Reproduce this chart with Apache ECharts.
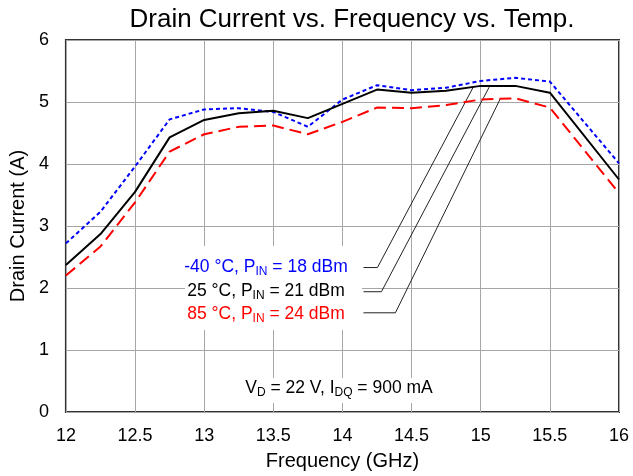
<!DOCTYPE html>
<html>
<head>
<meta charset="utf-8">
<style>
  html, body { margin: 0; padding: 0; background: #fff; }
  #cht { width: 633px; height: 476px; }
</style>
<script src="https://cdn.jsdelivr.net/npm/echarts@6/dist/echarts.min.js"></script>
</head>
<body>
<div id="cht"></div>
<script>
const freq = [12, 12.25, 12.5, 12.75, 13, 13.25, 13.5, 13.75, 14, 14.25, 14.5, 14.75, 15, 15.25, 15.5, 16];
const curM40 = [2.72, 3.23, 3.96, 4.72, 4.88, 4.90, 4.84, 4.60, 5.04, 5.27, 5.19, 5.23, 5.34, 5.39, 5.33, 4.01];
const cur25 = [2.37, 2.87, 3.55, 4.43, 4.71, 4.82, 4.86, 4.74, 4.97, 5.20, 5.15, 5.18, 5.26, 5.26, 5.15, 3.75];
const cur85 = [2.20, 2.67, 3.38, 4.20, 4.48, 4.60, 4.62, 4.48, 4.68, 4.91, 4.90, 4.95, 5.04, 5.06, 4.91, 3.53];

// leader lines from the labels up to the curves (GHz, A)
const leadM40 = [[14.152, 2.33], [14.253, 2.33], [14.946, 5.24]];
const lead25 = [[14.152, 1.94], [14.282, 1.94], [15.061, 5.24]];
const lead85 = [[14.152, 1.60], [14.383, 1.60], [15.141, 5.05]];

const FONT = '"Liberation Sans", Arial, sans-serif';

const cht = echarts.init(document.getElementById('cht'));

const pair = (xs, ys) => xs.map((x, i) => [x, ys[i]]);

const leader = (d) => ({
  type: 'line',
  data: d,
  symbol: 'none',
  silent: true,
  z: 1,
  lineStyle: { color: '#222', width: 1 },
});

const label = (txt, x, y, color) => ({
  type: 'text',
  x: x,
  y: y,
  z: 10,
  style: {
    text: txt,
    fill: color,
    font: '17.5px ' + FONT,
    textAlign: 'center',
    textVerticalAlign: 'middle',
    align: 'center',
    verticalAlign: 'middle',
    rich: {
      s: { fontSize: 12, fontFamily: FONT, fill: color, padding: [9, 0, 0, 0] },
    },
  },
});

// white boxes that mask the grid behind the annotations
const mask = (x, y, w, h) => ({
  type: 'rect',
  z: 5,
  shape: { x: x, y: y, width: w, height: h },
  style: { fill: '#fff' },
});

const option = {
  animation: false,
  title: {
    text: 'Drain Current vs. Frequency vs. Temp.',
    left: 347,
    textAlign: 'center',
    top: 2,
    textStyle: { fontFamily: FONT, fontSize: 26, fontWeight: 'normal', color: '#000' },
  },
  grid: {
    left: 65, right: 14, top: 40, bottom: 64,
    show: true, borderColor: '#333', borderWidth: 2,
  },
  xAxis: {
    type: 'value',
    min: 12, max: 16, interval: 0.5,
    name: 'Frequency (GHz)',
    nameLocation: 'middle',
    nameGap: 39,
    nameTextStyle: { fontFamily: FONT, fontSize: 20, color: '#000' },
    axisLine: { show: false },
    axisTick: { show: false },
    axisLabel: { fontFamily: FONT, fontSize: 18, color: '#000', margin: 15 },
    splitLine: { lineStyle: { color: '#a6a6a6', width: 1 } },
  },
  yAxis: {
    type: 'value',
    min: 0, max: 6, interval: 1,
    name: 'Drain Current (A)',
    nameLocation: 'middle',
    nameGap: 28,
    nameTextStyle: { fontFamily: FONT, fontSize: 20, color: '#000' },
    axisLine: { show: false },
    axisTick: { show: false },
    axisLabel: { fontFamily: FONT, fontSize: 18, color: '#000', margin: 17 },
    splitLine: { lineStyle: { color: '#a6a6a6', width: 1 } },
  },
  series: [
    {
      type: 'line', name: '-40', data: pair(freq, curM40), symbol: 'none', z: 3,
      lineStyle: { color: '#0000ff', width: 2, type: [4, 3] },
    },
    {
      type: 'line', name: '85', data: pair(freq, cur85), symbol: 'none', z: 3,
      lineStyle: { color: '#ff0000', width: 2, type: [12, 6] },
    },
    {
      type: 'line', name: '25', data: pair(freq, cur25), symbol: 'none', z: 4,
      lineStyle: { color: '#000', width: 2 },
    },
    leader(leadM40),
    leader(lead25),
    leader(lead85),
  ],
  graphic: [
    mask(185, 246, 177, 84),
    mask(236, 378, 208, 25),
    label('-40 °C, P{s|IN} = 18 dBm', 266, 267, '#0000ff'),
    label('25 °C, P{s|IN} = 21 dBm', 266, 291, '#000000'),
    label('85 °C, P{s|IN} = 24 dBm', 266, 314, '#ff0000'),
    {
      type: 'text',
      x: 339, y: 388,
      z: 10,
      style: {
        text: 'V{s|D} = 22 V, I{s|DQ} = 900 mA',
        fill: '#000',
        font: '17.5px ' + FONT,
        textAlign: 'center', textVerticalAlign: 'middle',
        align: 'center', verticalAlign: 'middle',
        rich: { s: { fontSize: 12, fontFamily: FONT, fill: '#000', padding: [9, 0, 0, 0] } },
      },
    },
  ],
};

cht.setOption(option);
window.onresize = () => cht.resize();
</script>
</body>
</html>
